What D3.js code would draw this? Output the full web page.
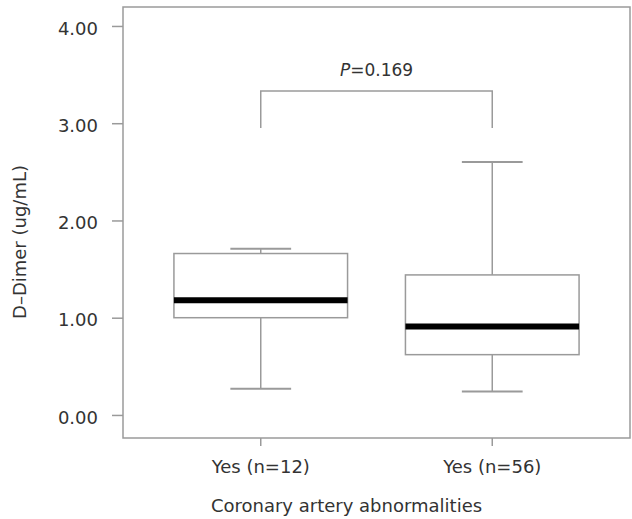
<!DOCTYPE html>
<html>
<head>
<meta charset="utf-8">
<script src="https://cdn.jsdelivr.net/npm/d3@7"></script>
<style>
  body { margin: 0; background: #fff; }
  text { font-family: "DejaVu Sans", sans-serif; fill: #333; }
</style>
</head>
<body>
<svg id="chart"></svg>
<script>
// data
var groups = ["Yes (n=12)", "Yes (n=56)"];
var whiskerLow = [0.27, 0.24];
var q1 = [1.00, 0.62];
var median = [1.18, 0.91];
var q3 = [1.66, 1.44];
var whiskerHigh = [1.71, 2.60];
var yTicks = [0, 1, 2, 3, 4];
var pText = "=0.169";
var bracketTop = 3.33, bracketBottom = 2.95;

var W = 632, H = 519;
// plot frame edges (note: "top" is reserved on window, so use other names)
var fLeft = 123, fRight = 630, fTop = 7, fBottom = 438;

var svg = d3.select("#chart").attr("width", W).attr("height", H);

var data = groups.map(function(g, i) {
  return { g: g, lo: whiskerLow[i], q1: q1[i], med: median[i], q3: q3[i], hi: whiskerHigh[i] };
});

var x = d3.scaleBand()
  .domain(groups)
  .range([fLeft, fRight])
  .paddingInner(0.25)
  .paddingOuter(0.22);

var y = d3.scaleLinear()
  .domain([-0.237, 4.195])
  .range([fBottom, fTop]);

var lineCol = "#9a9a9a";

// frame
svg.append("rect")
  .attr("x", fLeft).attr("y", fTop)
  .attr("width", fRight - fLeft).attr("height", fBottom - fTop)
  .attr("fill", "none").attr("stroke", lineCol).attr("stroke-width", 1.5);

// y axis
var yAxis = svg.append("g")
  .attr("transform", `translate(${fLeft},0)`)
  .call(d3.axisLeft(y).tickValues(yTicks).tickSize(11).tickPadding(14).tickFormat(d3.format(".2f")));
yAxis.select(".domain").remove();
yAxis.selectAll("line").attr("stroke", lineCol).attr("stroke-width", 1.5);
yAxis.selectAll("text").attr("font-size", 18).attr("fill", "#333").attr("dy", "0.45em")
  .style("font-family", "DejaVu Sans, sans-serif");

// x axis
var xAxis = svg.append("g")
  .attr("transform", `translate(0,${fBottom})`)
  .call(d3.axisBottom(x).tickSize(8).tickPadding(14));
xAxis.select(".domain").remove();
xAxis.selectAll("line").attr("stroke", lineCol).attr("stroke-width", 1.5);
xAxis.selectAll("text").attr("font-size", 18).attr("fill", "#333")
  .style("font-family", "DejaVu Sans, sans-serif");

// axis titles
svg.append("text")
  .attr("x", (fLeft + fRight) / 2 - 30)
  .attr("y", 512)
  .attr("text-anchor", "middle")
  .attr("font-size", 18)
  .text("Coronary artery abnormalities");

svg.append("text")
  .attr("transform", "translate(26,242) rotate(-90)")
  .attr("text-anchor", "middle")
  .attr("font-size", 18)
  .text("D\u2013Dimer (ug/mL)");

// boxes
var bw = x.bandwidth();
var capW = bw * 0.35;
var box = svg.append("g").selectAll("g")
  .data(data)
  .join("g")
  .attr("transform", d => `translate(${x(d.g)},0)`);

box.append("line")
  .attr("x1", bw / 2).attr("x2", bw / 2)
  .attr("y1", d => y(d.hi)).attr("y2", d => y(d.q3))
  .attr("stroke", lineCol).attr("stroke-width", 1.5);
box.append("line")
  .attr("x1", bw / 2).attr("x2", bw / 2)
  .attr("y1", d => y(d.q1)).attr("y2", d => y(d.lo))
  .attr("stroke", lineCol).attr("stroke-width", 1.5);
box.append("line")
  .attr("x1", bw / 2 - capW / 2).attr("x2", bw / 2 + capW / 2)
  .attr("y1", d => y(d.hi)).attr("y2", d => y(d.hi))
  .attr("stroke", lineCol).attr("stroke-width", 2);
box.append("line")
  .attr("x1", bw / 2 - capW / 2).attr("x2", bw / 2 + capW / 2)
  .attr("y1", d => y(d.lo)).attr("y2", d => y(d.lo))
  .attr("stroke", lineCol).attr("stroke-width", 2);
box.append("rect")
  .attr("x", 0).attr("width", bw)
  .attr("y", d => y(d.q3))
  .attr("height", d => y(d.q1) - y(d.q3))
  .attr("fill", "#fff").attr("stroke", lineCol).attr("stroke-width", 1.5);
box.append("line")
  .attr("x1", 0).attr("x2", bw)
  .attr("y1", d => y(d.med)).attr("y2", d => y(d.med))
  .attr("stroke", "#000").attr("stroke-width", 6);

// significance bracket
var cx1 = x(groups[0]) + bw / 2, cx2 = x(groups[1]) + bw / 2;
svg.append("path")
  .attr("d", d3.line()([[cx1, y(bracketBottom)], [cx1, y(bracketTop)], [cx2, y(bracketTop)], [cx2, y(bracketBottom)]]))
  .attr("fill", "none").attr("stroke", lineCol).attr("stroke-width", 1.5);

var pt = svg.append("text")
  .attr("x", (cx1 + cx2) / 2)
  .attr("y", y(bracketTop) - 15)
  .attr("text-anchor", "middle")
  .attr("font-size", 17);
pt.append("tspan").attr("font-style", "italic").text("P");
pt.append("tspan").text(pText);
</script>
</body>
</html>
